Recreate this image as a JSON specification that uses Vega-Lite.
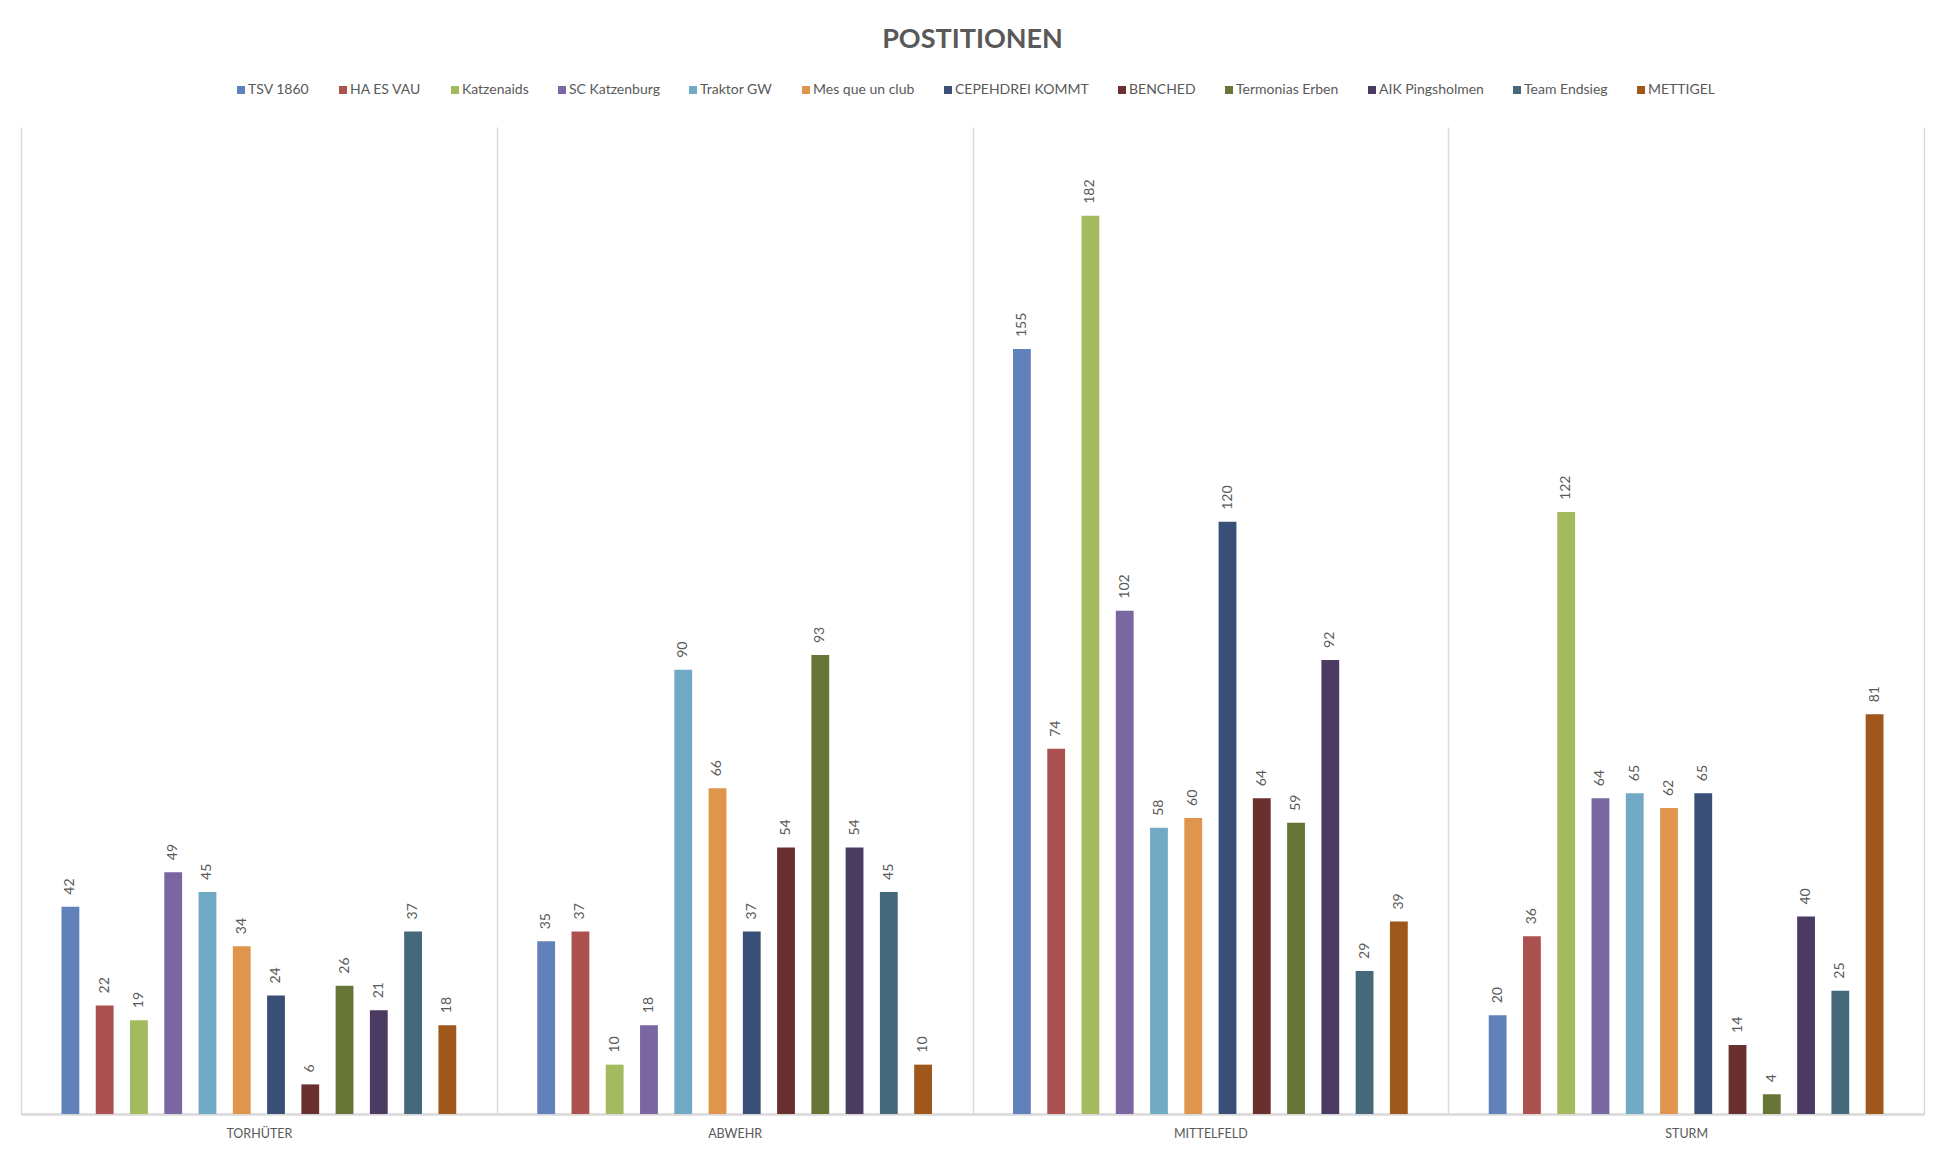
{
  "$schema": "https://vega.github.io/schema/vega-lite/v6.json",
  "width": 1903,
  "height": 987,
  "autosize": {"type": "none"},
  "padding": {"left": 21, "top": 127, "right": 12, "bottom": 38},
  "background": "white",
  "title": {"text": "POSTITIONEN", "font": "Lato", "fontSize": 27, "fontWeight": "bold", "color": "#595959", "anchor": "middle", "frame": "group", "offset": 29},
  "config": {"view": {"stroke": null}},
  "data": {"values": [
    {"position": "TORHÜTER", "team": "TSV 1860", "value": 42},
    {"position": "TORHÜTER", "team": "HA ES VAU", "value": 22},
    {"position": "TORHÜTER", "team": "Katzenaids", "value": 19},
    {"position": "TORHÜTER", "team": "SC Katzenburg", "value": 49},
    {"position": "TORHÜTER", "team": "Traktor GW", "value": 45},
    {"position": "TORHÜTER", "team": "Mes que un club", "value": 34},
    {"position": "TORHÜTER", "team": "CEPEHDREI KOMMT", "value": 24},
    {"position": "TORHÜTER", "team": "BENCHED", "value": 6},
    {"position": "TORHÜTER", "team": "Termonias Erben", "value": 26},
    {"position": "TORHÜTER", "team": "AIK Pingsholmen", "value": 21},
    {"position": "TORHÜTER", "team": "Team Endsieg", "value": 37},
    {"position": "TORHÜTER", "team": "METTIGEL", "value": 18},
    {"position": "ABWEHR", "team": "TSV 1860", "value": 35},
    {"position": "ABWEHR", "team": "HA ES VAU", "value": 37},
    {"position": "ABWEHR", "team": "Katzenaids", "value": 10},
    {"position": "ABWEHR", "team": "SC Katzenburg", "value": 18},
    {"position": "ABWEHR", "team": "Traktor GW", "value": 90},
    {"position": "ABWEHR", "team": "Mes que un club", "value": 66},
    {"position": "ABWEHR", "team": "CEPEHDREI KOMMT", "value": 37},
    {"position": "ABWEHR", "team": "BENCHED", "value": 54},
    {"position": "ABWEHR", "team": "Termonias Erben", "value": 93},
    {"position": "ABWEHR", "team": "AIK Pingsholmen", "value": 54},
    {"position": "ABWEHR", "team": "Team Endsieg", "value": 45},
    {"position": "ABWEHR", "team": "METTIGEL", "value": 10},
    {"position": "MITTELFELD", "team": "TSV 1860", "value": 155},
    {"position": "MITTELFELD", "team": "HA ES VAU", "value": 74},
    {"position": "MITTELFELD", "team": "Katzenaids", "value": 182},
    {"position": "MITTELFELD", "team": "SC Katzenburg", "value": 102},
    {"position": "MITTELFELD", "team": "Traktor GW", "value": 58},
    {"position": "MITTELFELD", "team": "Mes que un club", "value": 60},
    {"position": "MITTELFELD", "team": "CEPEHDREI KOMMT", "value": 120},
    {"position": "MITTELFELD", "team": "BENCHED", "value": 64},
    {"position": "MITTELFELD", "team": "Termonias Erben", "value": 59},
    {"position": "MITTELFELD", "team": "AIK Pingsholmen", "value": 92},
    {"position": "MITTELFELD", "team": "Team Endsieg", "value": 29},
    {"position": "MITTELFELD", "team": "METTIGEL", "value": 39},
    {"position": "STURM", "team": "TSV 1860", "value": 20},
    {"position": "STURM", "team": "HA ES VAU", "value": 36},
    {"position": "STURM", "team": "Katzenaids", "value": 122},
    {"position": "STURM", "team": "SC Katzenburg", "value": 64},
    {"position": "STURM", "team": "Traktor GW", "value": 65},
    {"position": "STURM", "team": "Mes que un club", "value": 62},
    {"position": "STURM", "team": "CEPEHDREI KOMMT", "value": 65},
    {"position": "STURM", "team": "BENCHED", "value": 14},
    {"position": "STURM", "team": "Termonias Erben", "value": 4},
    {"position": "STURM", "team": "AIK Pingsholmen", "value": 40},
    {"position": "STURM", "team": "Team Endsieg", "value": 25},
    {"position": "STURM", "team": "METTIGEL", "value": 81}
  ]},
  "encoding": {
    "x": {
      "field": "position", "type": "nominal",
      "sort": ["TORHÜTER", "ABWEHR", "MITTELFELD", "STURM"],
      "scale": {"paddingInner": 0, "paddingOuter": 0},
      "axis": {
        "title": null, "labelAngle": 0, "labelFont": "Lato", "labelFontSize": 12.5,
        "labelColor": "#595959", "labelPadding": 13, "ticks": false,
        "domainColor": "#d9d9d9", "domainWidth": 2.5,
        "grid": true, "gridColor": "#d9d9d9", "gridWidth": 1.5, "tickBand": "extent"
      }
    },
    "xOffset": {
      "field": "team", "type": "nominal",
      "sort": ["TSV 1860", "HA ES VAU", "Katzenaids", "SC Katzenburg", "Traktor GW", "Mes que un club", "CEPEHDREI KOMMT", "BENCHED", "Termonias Erben", "AIK Pingsholmen", "Team Endsieg", "METTIGEL"],
      "scale": {"paddingInner": 0.48, "paddingOuter": 0, "range": [40.5, 435.25]}
    },
    "y": {
      "field": "value", "type": "quantitative",
      "scale": {"domain": [0, 200], "nice": false},
      "axis": null
    }
  },
  "layer": [
    {
      "mark": {"type": "bar"},
      "encoding": {
        "color": {
          "field": "team", "type": "nominal",
          "scale": {
            "domain": ["TSV 1860", "HA ES VAU", "Katzenaids", "SC Katzenburg", "Traktor GW", "Mes que un club", "CEPEHDREI KOMMT", "BENCHED", "Termonias Erben", "AIK Pingsholmen", "Team Endsieg", "METTIGEL"],
            "range": ["#6181BA", "#AB5250", "#A4BA5E", "#7A66A0", "#71AAC5", "#E0954C", "#3A4F75", "#6A2F2F", "#677537", "#4B3B63", "#45697A", "#A0571C"]
          },
          "legend": {
            "title": null, "orient": "none", "legendX": 213, "legendY": -44,
            "direction": "horizontal", "columns": 12,
            "symbolType": "square", "symbolSize": 64, "symbolStrokeWidth": 0,
            "labelFont": "Lato", "labelFontSize": 14, "labelColor": "#595959",
            "labelOffset": 0, "columnPadding": 26
          }
        }
      }
    },
    {
      "mark": {"type": "text", "angle": 270, "align": "left", "baseline": "middle", "dx": 12, "font": "Lato", "fontSize": 14, "color": "#595959"},
      "encoding": {"text": {"field": "value", "type": "quantitative"}}
    }
  ]
}
